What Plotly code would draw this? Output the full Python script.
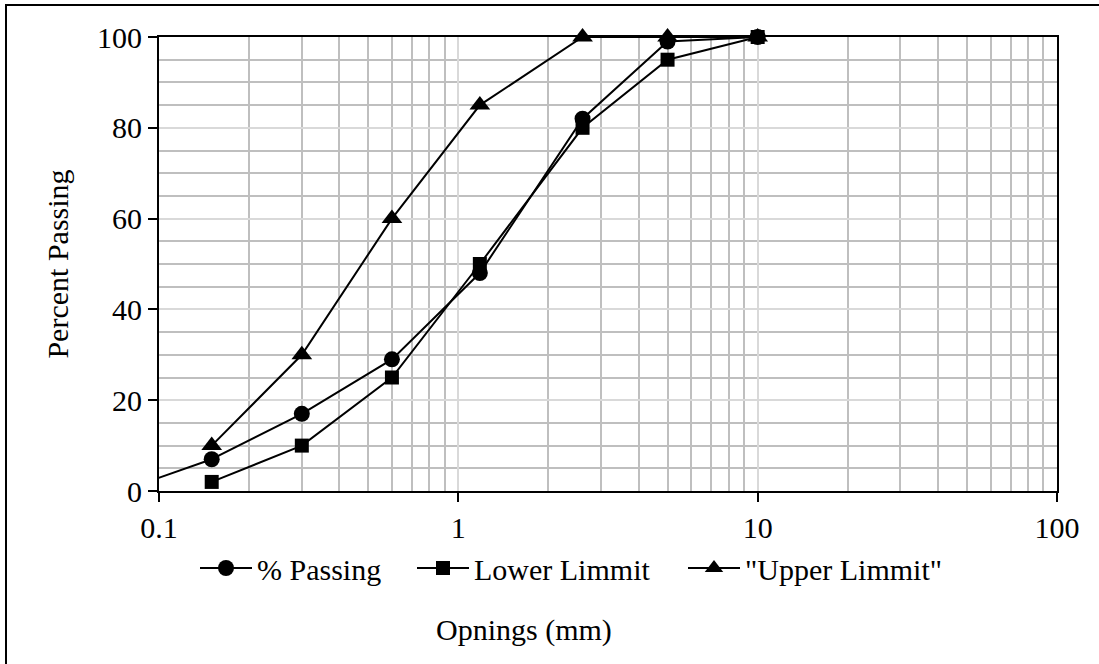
import plotly.graph_objects as go

# Data
sieve_passing = [0.075, 0.15, 0.3, 0.6, 1.18, 2.6, 5, 10]
pct_passing = [0, 7, 17, 29, 48, 82, 99, 100]

sieve_limits = [0.15, 0.3, 0.6, 1.18, 2.6, 5, 10]
lower_limit = [2, 10, 25, 50, 80, 95, 100]
upper_limit = [10, 30, 60, 85, 100, 100, 100]

x_ticks = [0.1, 1, 10, 100]
x_tick_labels = ["0.1", "1", "10", "100"]
y_ticks = [0, 20, 40, 60, 80, 100]

FONT = "Liberation Serif, Times New Roman, serif"
FS = 30

W, H = 1099, 664
L, R, T, B = 159, 1057, 37, 491
pw, ph = R - L, B - T


def px_x(p):
    return (p - L) / pw


def px_y(p):
    return (B - p) / ph


fig = go.Figure()
line = dict(color="black", width=2)
# segment of % Passing that starts below the axis range (line only, clipped at the axis)
fig.add_trace(go.Scatter(x=sieve_passing[:2], y=pct_passing[:2], mode="lines",
                         line=line, showlegend=False, hoverinfo="skip"))
fig.add_trace(go.Scatter(x=sieve_passing[1:], y=pct_passing[1:], mode="lines+markers",
                         name="% Passing", line=line, legend="legend", cliponaxis=False,
                         marker=dict(symbol="circle", size=16, color="black")))
fig.add_trace(go.Scatter(x=sieve_limits, y=lower_limit, mode="lines+markers",
                         name="Lower Limmit", line=line, legend="legend2", cliponaxis=False,
                         marker=dict(symbol="square", size=14, color="black")))
fig.add_trace(go.Scatter(x=sieve_limits, y=upper_limit, mode="lines+markers",
                         name='"Upper Limmit"', line=line, legend="legend3", cliponaxis=False,
                         marker=dict(symbol="triangle-up", size=18, color="black")))


def leg(px):
    return dict(orientation="h", x=px_x(px), y=px_y(568), xanchor="left", yanchor="middle",
                font=dict(family=FONT, size=FS, color="black"),
                bgcolor="rgba(0,0,0,0)", itemwidth=52, borderwidth=0)


fig.update_layout(
    width=W, height=H,
    margin=dict(l=L, r=W - R, t=T, b=H - B, autoexpand=False),
    paper_bgcolor="white", plot_bgcolor="white",
    font=dict(family=FONT, size=FS, color="black"),
    showlegend=True,
    legend=leg(195), legend2=leg(412), legend3=leg(683),
    xaxis=dict(type="log", range=[-1, 2], tickvals=x_ticks, ticktext=x_tick_labels,
               showgrid=True, gridcolor="#d9d9d9", gridwidth=2,
               minor=dict(dtick="D1", showgrid=True, gridcolor="#bfbfbf", gridwidth=2, ticks=""),
               showline=True, linecolor="black", linewidth=2, mirror=True,
               ticks="outside", ticklen=9, tickwidth=2, tickcolor="black",
               tickfont=dict(family=FONT, size=FS), zeroline=False),
    yaxis=dict(range=[0, 100], tickvals=y_ticks,
               showgrid=True, gridcolor="#d9d9d9", gridwidth=2,
               minor=dict(dtick=5, showgrid=True, gridcolor="#bfbfbf", gridwidth=2, ticks=""),
               showline=True, linecolor="black", linewidth=2, mirror=True,
               ticks="outside", ticklen=9, tickwidth=2, tickcolor="black",
               tickfont=dict(family=FONT, size=FS), zeroline=False,
               title=dict(text="Percent Passing", font=dict(family=FONT, size=FS), standoff=20)),
    annotations=[dict(text="Opnings (mm)", xref="paper", yref="paper",
                      x=px_x(524), y=px_y(630), xanchor="center", yanchor="middle",
                      showarrow=False, font=dict(family=FONT, size=FS, color="black"))],
    shapes=[dict(type="rect", xref="paper", yref="paper",
                 x0=px_x(6), x1=px_x(1110), y0=px_y(680), y1=px_y(5),
                 line=dict(color="black", width=2), fillcolor="rgba(0,0,0,0)", layer="below")],
)

fig.write_html("out.html", config={"displayModeBar": False},
               post_script="document.body.style.margin='0px';")
